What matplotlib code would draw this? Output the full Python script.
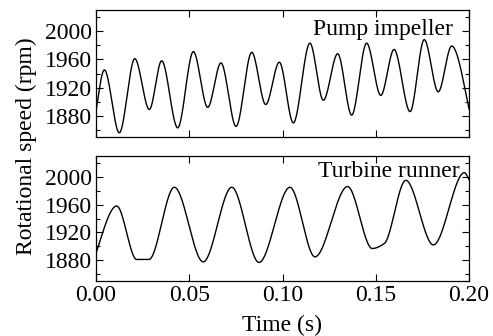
import numpy as np
import matplotlib
matplotlib.use("Agg")
import matplotlib.pyplot as plt
from matplotlib.ticker import MultipleLocator

plt.rcParams['font.family'] = ['Liberation Serif', 'DejaVu Serif']
plt.rcParams['mathtext.fontset'] = 'stix'

# Pump impeller speed (extrema)
pump_t = [0.0000, 0.0045, 0.0125, 0.0208, 0.0286, 0.0352, 0.0438, 0.0522, 0.0599,
          0.0670, 0.0751, 0.0835, 0.0910, 0.0983, 0.1058, 0.1147, 0.1219, 0.1296,
          0.1371, 0.1451, 0.1527, 0.1598, 0.1684, 0.1760, 0.1835, 0.1907, 0.2000]
pump_rpm = [1887, 1945, 1856, 1961, 1889, 1958, 1863, 1971, 1892,
            1955, 1865, 1970, 1896, 1956, 1870, 1983, 1902, 1968,
            1881, 1983, 1909, 1974, 1886, 1988, 1914, 1979, 1890]

# Turbine runner speed
turb_t = [0.0000, 0.0111, 0.0218, 0.0284, 0.0420, 0.0575, 0.0728, 0.0874,
          0.1040, 0.1174, 0.1349, 0.1481, 0.1546, 0.1661, 0.1809, 0.1975, 0.2000]
turb_rpm = [1890, 1958, 1881, 1881, 1985, 1877.5, 1985, 1876.7,
            1985, 1884.8, 1986, 1896.8, 1904, 1995, 1902, 2006, 1996]

labels = ["Pump impeller", "Turbine runner"]
xticks = [0.00, 0.05, 0.10, 0.15, 0.20]
yticks = [1880, 1920, 1960, 2000]


def pchip(x, y, xn):
    """Monotone cubic Hermite curve through the read points (smooth line drawing)."""
    x = np.asarray(x, float); y = np.asarray(y, float)
    h = np.diff(x); d = np.diff(y) / h
    m = np.zeros_like(y)
    for k in range(1, len(x) - 1):
        if d[k - 1] * d[k] > 0:
            w1 = 2 * h[k] + h[k - 1]; w2 = h[k] + 2 * h[k - 1]
            m[k] = (w1 + w2) / (w1 / d[k - 1] + w2 / d[k])
    m[0] = d[0] * 1.3 if len(d) > 1 and d[0] * d[1] < 0 else d[0]
    m[-1] = d[-1] * 1.3 if len(d) > 1 and d[-1] * d[-2] < 0 else d[-1]
    idx = np.clip(np.searchsorted(x, xn) - 1, 0, len(h) - 1)
    s = (xn - x[idx]) / h[idx]
    h00 = 2 * s**3 - 3 * s**2 + 1; h10 = s**3 - 2 * s**2 + s
    h01 = -2 * s**3 + 3 * s**2; h11 = s**3 - s**2
    return h00 * y[idx] + h10 * h[idx] * m[idx] + h01 * y[idx + 1] + h11 * h[idx] * m[idx + 1]


W, H = 493, 336
fig = plt.figure(figsize=(W / 100, H / 100), dpi=100)
ax1 = fig.add_axes([96 / W, 1 - 137 / H, 373 / W, 127 / H])
ax2 = fig.add_axes([96 / W, 1 - 281 / H, 373 / W, 125 / H])

fs = 17
tt = np.linspace(0, 0.2, 2000)
for ax, t, v in [(ax1, pump_t, pump_rpm), (ax2, turb_t, turb_rpm)]:
    ax.plot(tt, pchip(t, v, tt), color='black', lw=1.0)
    ax.set_xlim(0, 0.2)
    ax.set_ylim(1850, 2030)
    ax.set_xticks(xticks)
    ax.set_yticks(yticks)
    ax.yaxis.set_minor_locator(MultipleLocator(20))
    ax.tick_params(which='both', direction='in', top=True, right=True, labelsize=fs, pad=3)
    ax.tick_params(which='major', length=5, width=0.8)
    ax.tick_params(which='minor', length=3, width=0.8)
    for sp in ax.spines.values():
        sp.set_linewidth(0.9)

ax1.tick_params(labelbottom=False)
ax2.set_xticklabels([f"{x:.2f}" for x in xticks])

ax1.text(0.957, 0.80, labels[0], transform=ax1.transAxes, ha='right', va='baseline', fontsize=fs)
ax2.text(0.976, 0.834, labels[1], transform=ax2.transAxes, ha='right', va='baseline', fontsize=fs)

fig.text(26 / W, 1 - 146 / H, "Rotational speed (rpm)", rotation=90, ha='center', va='center', fontsize=fs)
fig.text(282 / W, 1 - 331.5 / H, "Time (s)", ha='center', va='baseline', fontsize=fs)

fig.savefig("out.png", dpi=100)
